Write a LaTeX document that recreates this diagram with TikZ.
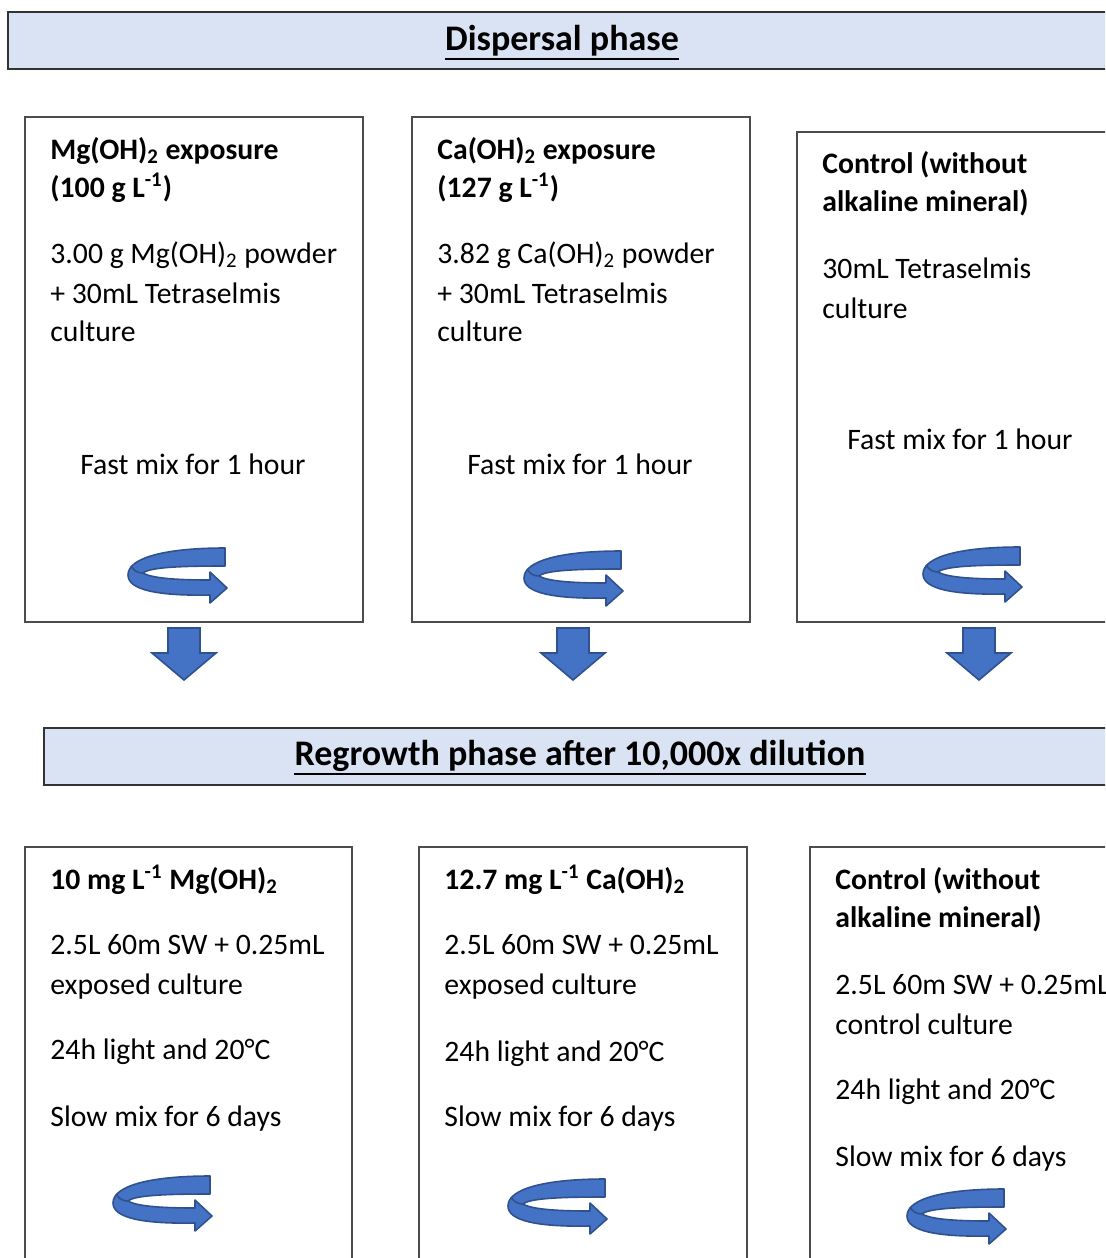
\documentclass[tikz,border=0pt]{standalone}
\usepackage{fontspec}
\setmainfont{Carlito}
\usepackage{xcolor}
\usepackage{tikz}
\usetikzlibrary{calc,positioning}
\definecolor{bandfill}{HTML}{DAE3F3}
\definecolor{arrowfill}{HTML}{4472C4}
\definecolor{arrowline}{HTML}{2F528F}
\newcommand{\bodyfont}{\fontsize{14.85}{20}\selectfont}
\newcommand{\Lm}{L\textsuperscript{-1}}
\newcommand{\two}{\textsubscript{2}}
% curved "mix" arrow, #1 = top left corner
\newcommand{\mixarrow}[1]{%
  \begin{scope}[shift={#1}]
    \draw[arrowline,fill=arrowfill,line width=0.8pt,line join=round]
      (97,1) -- (97,19) .. controls (55,19) and (22,20) .. (15,26)
      .. controls (25,32) and (55,33) .. (82,33) -- (82,25) -- (99,41)
      -- (82,56) -- (82,48) .. controls (30,49) and (0,43) .. (0,28)
      .. controls (0,10) and (40,1) .. cycle;
    \draw[arrowline,line width=0.8pt] (3,19) .. controls (6,24) and (10,26) .. (15,26);
  \end{scope}}
% block arrow pointing down, #1 = top middle
\newcommand{\blockdown}[1]{%
  \draw[arrowline,fill=arrowfill,line width=0.8pt,shift={#1}]
    (-16,0) -- (16,0) -- (16,25) -- (32,25) -- (0,52) -- (-32,25) -- (-16,25) -- cycle;}

\begin{document}
\begin{tikzpicture}[x=0.5pt,y=-0.5pt,
  panel/.style={draw=black!70,line width=1pt},
  banner/.style={draw=black!80,fill=bandfill,line width=1pt},
  title/.style={font=\fontsize{18}{22}\selectfont\bfseries,inner sep=0},
  uline/.style={line width=1.3pt},
  txt/.style={anchor=base west,font=\bodyfont,inner sep=0},
  hd/.style={txt,font=\bodyfont\bfseries},
  mid/.style={anchor=base,font=\bodyfont,inner sep=0}]
  \useasboundingbox (0,0) rectangle (1105,1258);
  \clip (0,0) rectangle (1105,1258);

  % dispersal phase
  \draw[banner] (8,12) rectangle (1120,69);
  \node[title] (disp) at (562,41) {Dispersal phase};
  \draw[uline] ($(disp.south west)+(0,2)$) -- ($(disp.south east)+(0,2)$);

  \draw[panel] (25,117) rectangle (363,622);
  \draw[panel] (412,117) rectangle (750,622);
  \draw[panel] (797,132) rectangle (1120,622);

  \node[hd] (mgA) at (50,159) {Mg(OH)\two{} exposure};
  \node[hd] (mgB) at (50,197) {(100 g \Lm)};
  \node[txt] (mgC) at (50,263) {3.00 g Mg(OH)\two{} powder};
  \node[txt] (mgD) at (50,303) {+ 30mL Tetraselmis};
  \node[txt] (mgE) at (50,341) {culture};
  \node[mid] (mgF) at (193,474) {Fast mix for 1 hour};

  \node[hd] (caA) at (437,159) {Ca(OH)\two{} exposure};
  \node[hd] (caB) at (437,197) {(127 g \Lm)};
  \node[txt] (caC) at (437,263) {3.82 g Ca(OH)\two{} powder};
  \node[txt] (caD) at (437,303) {+ 30mL Tetraselmis};
  \node[txt] (caE) at (437,341) {culture};
  \node[mid] (caF) at (580,474) {Fast mix for 1 hour};

  \node[hd] (coA) at (822,173) {Control (without};
  \node[hd] (coB) at (822,211) {alkaline mineral)};
  \node[txt] (coC) at (822,278) {30mL Tetraselmis};
  \node[txt] (coD) at (822,318) {culture};
  \node[mid] (coF) at (960,449) {Fast mix for 1 hour};

  \mixarrow{(128,547)}
  \mixarrow{(524,550)}
  \mixarrow{(923,546)}

  \blockdown{(184,628)}
  \blockdown{(573,628)}
  \blockdown{(979,628)}

  % regrowth phase
  \draw[banner] (44,728) rectangle (1120,785);
  \node[title] (regr) at (580,756) {Regrowth phase after 10,000x dilution};
  \draw[uline] ($(regr.south west)+(0,2)$) -- ($(regr.south east)+(0,2)$);

  \draw[panel] (25,847) rectangle (352,1280);
  \draw[panel] (419,847) rectangle (747,1280);
  \draw[panel] (810,847) rectangle (1120,1280);

  \node[hd] (rmA) at (50,889) {10 mg \Lm{} Mg(OH)\two};
  \node[txt] (rmB) at (50,954) {2.5L 60m SW + 0.25mL};
  \node[txt] (rmC) at (50,994) {exposed culture};
  \node[txt] (rmD) at (50,1059) {24h light and 20°C};
  \node[txt] (rmE) at (50,1126) {Slow mix for 6 days};

  \node[hd] (rcA) at (444,889) {12.7 mg \Lm{} Ca(OH)\two};
  \node[txt] (rcB) at (444,954) {2.5L 60m SW + 0.25mL};
  \node[txt] (rcC) at (444,994) {exposed culture};
  \node[txt] (rcD) at (444,1061) {24h light and 20°C};
  \node[txt] (rcE) at (444,1126) {Slow mix for 6 days};

  \node[hd] (roA) at (835,889) {Control (without};
  \node[hd] (roB) at (835,927) {alkaline mineral)};
  \node[txt] (roC) at (835,994) {2.5L 60m SW + 0.25mL};
  \node[txt] (roD) at (835,1034) {control culture};
  \node[txt] (roE) at (835,1099) {24h light and 20°C};
  \node[txt] (roF) at (835,1166) {Slow mix for 6 days};

  \mixarrow{(113,1175)}
  \mixarrow{(508,1178)}
  \mixarrow{(907,1188)}
\end{tikzpicture}
\end{document}
